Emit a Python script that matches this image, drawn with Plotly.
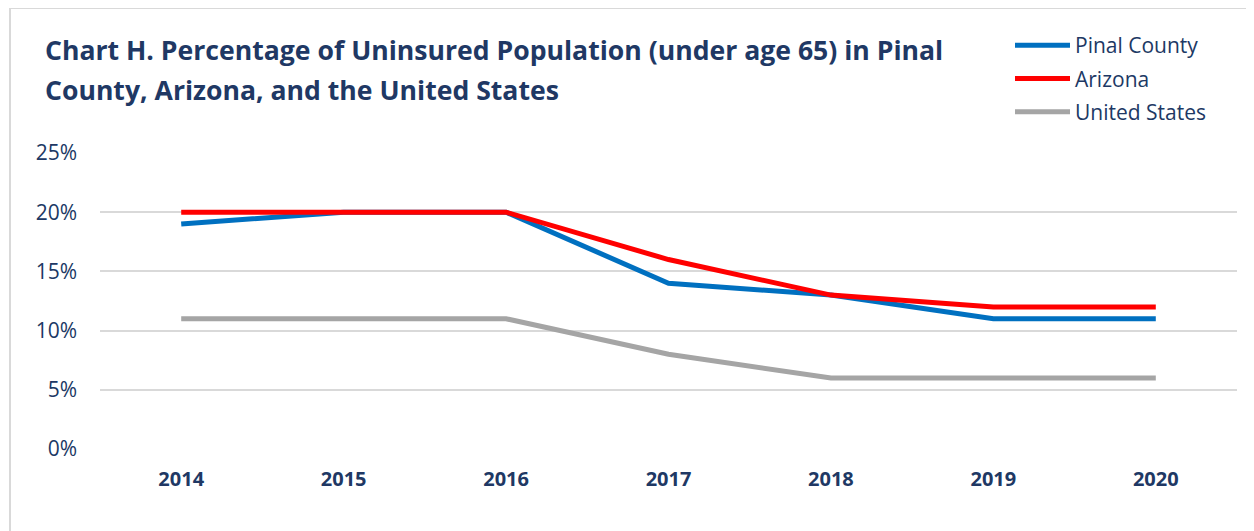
import plotly.graph_objects as go

# data
years = ["2014", "2015", "2016", "2017", "2018", "2019", "2020"]
pinal = [0.19, 0.20, 0.20, 0.14, 0.13, 0.11, 0.11]
arizona = [0.20, 0.20, 0.20, 0.16, 0.13, 0.12, 0.12]
us = [0.11, 0.11, 0.11, 0.08, 0.06, 0.06, 0.06]

series = [
    ("Pinal County", pinal, "#0070C0"),
    ("Arizona", arizona, "#FF0000"),
    ("United States", us, "#A5A5A5"),
]

title_lines = ["Chart H. Percentage of Uninsured Population (under age 65) in Pinal",
               "County, Arizona, and the United States"]

navy = "#203864"
fam = "Open Sans"
W, H = 1254, 531
off = 8  # page body margin shifts the figure by this much
ml, mt = 100 - off, 153 - off
mr, mb = W - (1237 - off), H - (449 - off)
pw, ph = W - ml - mr, H - mt - mb


def px_x(x):
    return (x - off - ml) / pw


def px_y(y):
    return (H - (y - off) - mb) / ph


fig = go.Figure()
for name, vals, col in series:
    fig.add_trace(go.Scatter(x=years, y=vals, name=name, mode="lines",
                             legendgroup=name,
                             line=dict(color=col, width=5)))

fig.update_layout(
    width=W, height=H,
    margin=dict(l=ml, r=mr, t=mt, b=mb, autoexpand=False),
    plot_bgcolor="white", paper_bgcolor="white",
    font=dict(family=fam, color=navy),
    showlegend=True,
    legend=dict(x=px_x(1010), y=px_y(25),
                xanchor="left", yanchor="top", itemwidth=55,
                font=dict(size=21, color=navy, family=fam), tracegroupgap=3,
                bgcolor="rgba(0,0,0,0)"),
)

# two-line title, placed as annotations to get the wider line spacing
for i, line in enumerate(title_lines):
    fig.add_annotation(text="<b>" + line + "</b>", xref="paper", yref="paper",
                       x=px_x(43), y=px_y(50 + 40 * i),
                       xanchor="left", yanchor="middle", showarrow=False,
                       font=dict(size=26.6, color=navy, family=fam))

fig.update_xaxes(type="category", range=[-0.5, 6.5], showgrid=False,
                 showline=False, ticks="", ticklabelstandoff=16,
                 tickfont=dict(size=20, color=navy, family=fam),
                 tickprefix="<b>", ticksuffix="</b>", fixedrange=True)
fig.update_yaxes(range=[0, 0.25], dtick=0.05, tickformat=".0%",
                 showgrid=True, gridcolor="#D9D9D9", gridwidth=2,
                 zeroline=False, showline=False, ticks="",
                 ticklabelstandoff=22,
                 tickfont=dict(size=21, color=navy, family=fam), fixedrange=True)

# outer frame of the chart box
fig.add_shape(type="rect", xref="paper", yref="paper",
              x0=px_x(10), x1=px_x(W + 30), y0=px_y(H + 30), y1=px_y(8),
              line=dict(color="#D9D9D9", width=2), layer="below")

fig.write_html("out.html")
